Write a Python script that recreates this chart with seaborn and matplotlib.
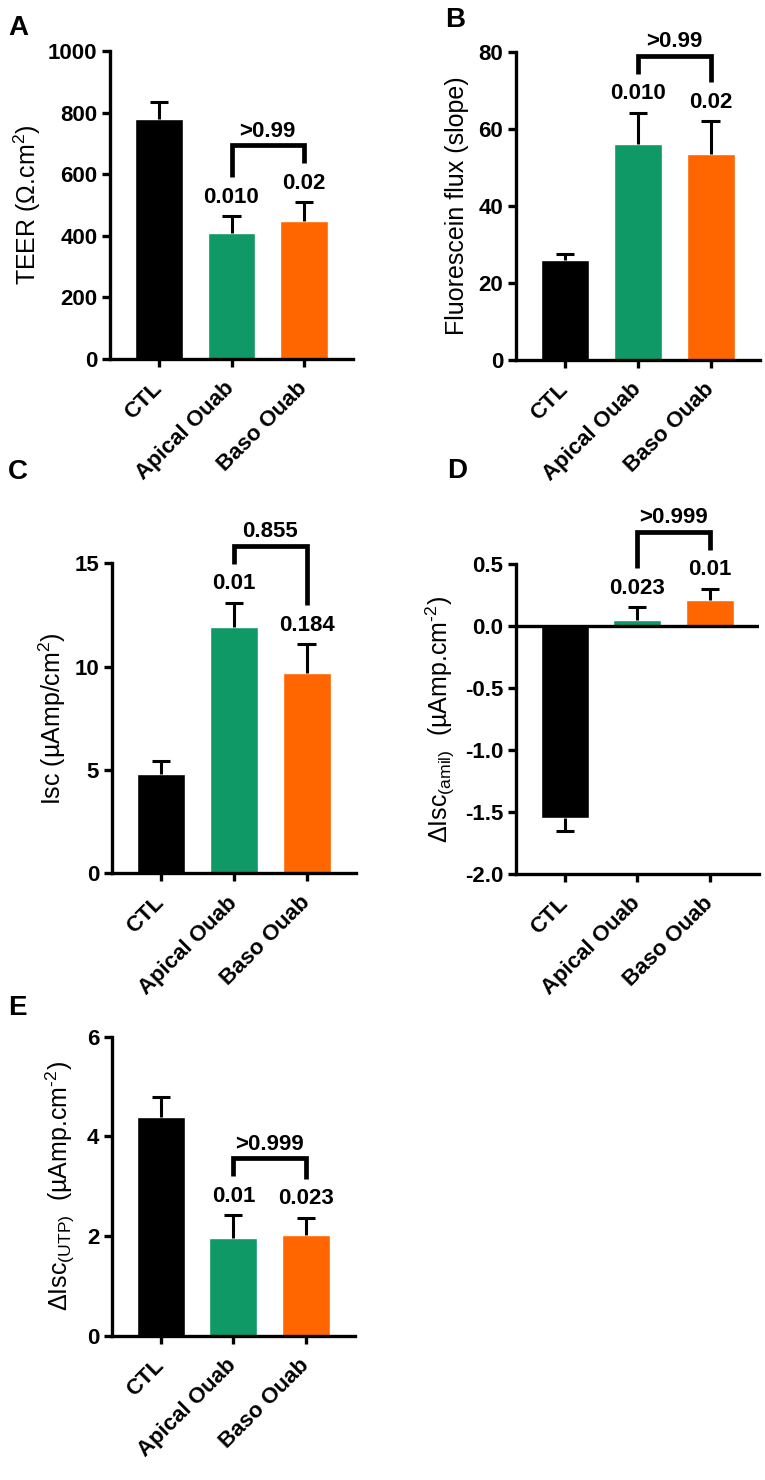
import matplotlib

matplotlib.use("Agg")
import matplotlib.pyplot as plt
import numpy as np
import seaborn as sns
from matplotlib.ticker import FormatStrFormatter

sns.set_theme(
    style="ticks",
    rc={
        "axes.edgecolor": "black",
        "xtick.color": "black",
        "ytick.color": "black",
        "text.color": "black",
        "axes.labelcolor": "black",
    },
)
plt.rcParams["font.family"] = ["Liberation Sans", "DejaVu Sans"]
plt.rcParams["mathtext.default"] = "regular"
plt.rcParams["axes.unicode_minus"] = False

# Data (mean, SEM, p-values: apical vs CTL, baso vs CTL, apical vs baso)
categories = ["CTL", "Apical Ouab", "Baso Ouab"]
bar_colors = ["#000000", "#0E9966", "#FF6600"]

teer_mean = [780, 408, 449]
teer_sem = [53, 56, 60]
teer_p = ["0.010", "0.02", ">0.99"]

flux_mean = [26.0, 56.0, 53.4]
flux_sem = [1.4, 8.2, 8.5]
flux_p = ["0.010", "0.02", ">0.99"]

isc_mean = [4.79, 11.9, 9.71]
isc_sem = [0.66, 1.2, 1.37]
isc_p = ["0.01", "0.184", "0.855"]

amil_mean = [-1.55, 0.05, 0.207]
amil_sem = [0.10, 0.10, 0.093]
amil_p = ["0.023", "0.01", ">0.999"]

utp_mean = [4.40, 1.96, 2.02]
utp_sem = [0.39, 0.46, 0.35]
utp_p = ["0.01", "0.023", ">0.999"]

FIG_W, FIG_H = 765, 1480
fig = plt.figure(figsize=(FIG_W / 100, FIG_H / 100), dpi=100)

BOLD = 16


def add_axes_px(left, top, right, bottom):
    return fig.add_axes(
        [left / FIG_W, 1 - bottom / FIG_H, (right - left) / FIG_W, (bottom - top) / FIG_H]
    )


def annotate(ax, means, sems, pvals):
    """p-value labels over the treated bars and the bracket between them."""
    tips = np.asarray(means) + np.sign(means) * np.asarray(sems)
    to_px = ax.transData.transform
    to_data = ax.transData.inverted().transform
    label_px = []
    for i in (1, 2):
        py = to_px((i, tips[i]))[1] + 19
        ax.text(i, to_data((0, py))[1], pvals[i - 1], ha="center", va="center",
                fontsize=BOLD, fontweight="bold", clip_on=False)
        label_px.append(py)
    legs = [p + 20 for p in label_px]
    top = max(legs) + 18
    ys = [to_data((0, legs[0]))[1], to_data((0, top))[1],
          to_data((0, top))[1], to_data((0, legs[1]))[1]]
    ax.plot([1, 1, 2, 2], ys, color="black", lw=3.4, clip_on=False,
            solid_joinstyle="miter", solid_capstyle="butt")
    ax.text(1.5, to_data((0, top + 14))[1], pvals[2], ha="center", va="center",
            fontsize=BOLD, fontweight="bold", clip_on=False)


def draw_panel(ax, means, sems, pvals, ylim, yticks, ylabel, label_x, fmt="%d"):
    sns.barplot(x=categories, y=means, hue=categories, palette=bar_colors,
                width=0.66, saturation=1, errorbar=None, legend=False, ax=ax)
    x = np.arange(len(categories))
    m = np.asarray(means)
    tips = m + np.sign(m) * np.asarray(sems)
    ax.vlines(x, m, tips, color="black", lw=2.2, zorder=3)
    ax.hlines(tips, x - 0.125, x + 0.125, color="black", lw=2.2, zorder=3)

    ax.set_xlim(-0.68, 2.68)
    ax.set_ylim(ylim)
    ax.set_yticks(yticks)
    ax.yaxis.set_major_formatter(FormatStrFormatter(fmt))
    sns.despine(ax=ax)
    for side in ("left", "bottom"):
        ax.spines[side].set_linewidth(2.4)
    ax.tick_params(axis="both", direction="out", length=6, width=2.4,
                   labelsize=BOLD)
    ax.tick_params(axis="y", pad=3)
    ax.tick_params(axis="x", pad=13)
    for lbl in ax.get_yticklabels():
        lbl.set_fontweight("bold")
    ax.set_xticks(x)
    ax.set_xticklabels(categories, rotation=45, ha="right", va="center",
                       rotation_mode="anchor", fontweight="bold")
    ax.set_xlabel("")
    ax.set_ylabel(ylabel, fontsize=18, va="center")
    ax.yaxis.set_label_coords(label_x, 0.5)
    annotate(ax, means, sems, pvals)


ax_a = add_axes_px(110, 51, 353, 359)
draw_panel(ax_a, teer_mean, teer_sem, teer_p, (0, 1000), [0, 200, 400, 600, 800, 1000],
           "TEER (Ω.cm$^2$)", -0.34)

ax_b = add_axes_px(515.7, 51.7, 760, 360)
draw_panel(ax_b, flux_mean, flux_sem, flux_p, (0, 80), [0, 20, 40, 60, 80],
           "Fluorescein flux (slope)", -0.24)

ax_c = add_axes_px(111.7, 563.3, 356, 873.3)
draw_panel(ax_c, isc_mean, isc_sem, isc_p, (0, 15), [0, 5, 10, 15],
           "Isc (µAmp/cm$^2$)", -0.245)

ax_d = add_axes_px(515.7, 564, 759, 874)
draw_panel(ax_d, amil_mean, amil_sem, amil_p, (-2.0, 0.5), [-2.0, -1.5, -1.0, -0.5, 0.0, 0.5],
           "ΔIsc$_{(amil)}$  (µAmp.cm$^{\u20102}$)", -0.31, fmt="%.1f")
ax_d.axhline(0, color="black", lw=2.4, zorder=4)

ax_e = add_axes_px(111.7, 1036.7, 355, 1336)
draw_panel(ax_e, utp_mean, utp_sem, utp_p, (0, 6), [0, 2, 4, 6],
           "ΔIsc$_{(UTP)}$  (µAmp.cm$^{\u20102}$)", -0.21)

# Panel letters
for letter, (px, py) in zip("ABCDE", [(8, 35), (445, 27), (8, 479), (447, 478), (8, 1015)]):
    fig.text(px / FIG_W, 1 - py / FIG_H, letter, fontsize=20, fontweight="bold",
             ha="left", va="baseline")

fig.savefig("out.png", dpi=100)
plt.close(fig)
